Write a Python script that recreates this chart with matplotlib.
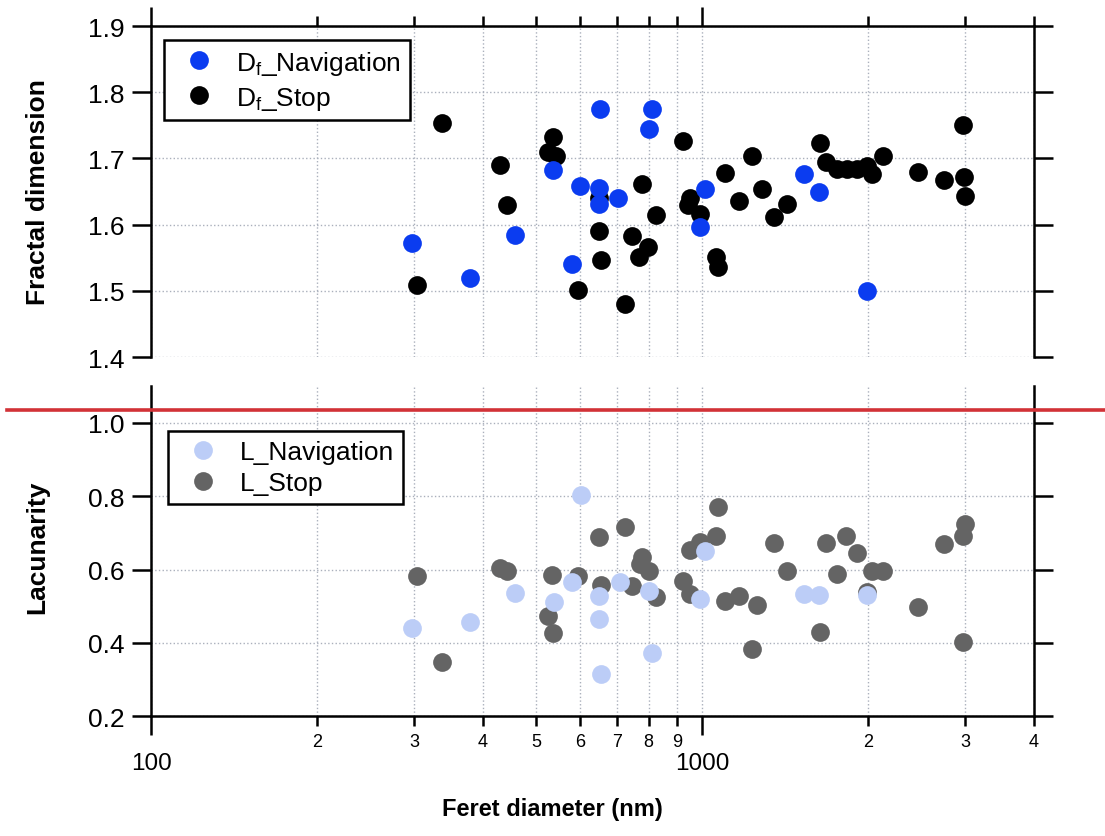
import matplotlib
matplotlib.use('Agg')
import matplotlib.pyplot as plt
from matplotlib.lines import Line2D
from matplotlib.ticker import FormatStrFormatter

plt.rcParams['font.family'] = ['Liberation Sans', 'DejaVu Sans']
plt.rcParams['mathtext.fontset'] = 'custom'
plt.rcParams['mathtext.rm'] = 'Liberation Sans'
plt.rcParams['mathtext.it'] = 'Liberation Sans:italic'

# 分形维数 - Stop (黑点)
df_stop_x = [304, 337, 429, 442, 526, 537, 542, 596, 651, 651, 656, 725, 746, 769,
             777, 797, 824, 922, 944, 951, 992, 1060, 1070, 1098, 1164, 1231, 1283,
             1351, 1425, 1638, 1679, 1756, 1830, 1909, 1990, 2032, 2128, 2463, 2742,
             2973, 2981, 3002]
df_stop_y = [1.509, 1.754, 1.690, 1.629, 1.709, 1.732, 1.703, 1.502, 1.641, 1.591,
             1.546, 1.480, 1.583, 1.551, 1.661, 1.566, 1.615, 1.727, 1.629, 1.641,
             1.616, 1.551, 1.536, 1.678, 1.635, 1.704, 1.654, 1.611, 1.631, 1.723,
             1.694, 1.684, 1.684, 1.684, 1.688, 1.677, 1.703, 1.679, 1.668, 1.750,
             1.672, 1.643]

# 分形维数 - Navigation (蓝点)
df_nav_x = [297, 379, 457, 537, 580, 600, 651, 651, 653, 705, 802, 810, 992, 1013,
            1531, 1626, 1990]
df_nav_y = [1.573, 1.520, 1.584, 1.683, 1.541, 1.659, 1.655, 1.631, 1.775, 1.640,
            1.745, 1.774, 1.596, 1.654, 1.677, 1.649, 1.500]

# 空隙度 - Stop (灰点)
l_stop_x = [304, 337, 430, 442, 525, 535, 537, 596, 651, 656, 725, 746, 771, 777,
            800, 824, 922, 951, 952, 992, 1060, 1068, 1101, 1164, 1231, 1257, 1351,
            1425, 1638, 1679, 1756, 1823, 1909, 1990, 2032, 2128, 2463, 2742, 2973,
            2973, 3002]
l_stop_y = [0.583, 0.349, 0.603, 0.597, 0.474, 0.586, 0.427, 0.583, 0.688, 0.558,
            0.715, 0.554, 0.615, 0.633, 0.597, 0.524, 0.569, 0.654, 0.533, 0.674,
            0.692, 0.770, 0.515, 0.527, 0.383, 0.503, 0.672, 0.597, 0.429, 0.672,
            0.588, 0.692, 0.645, 0.538, 0.597, 0.597, 0.497, 0.670, 0.692, 0.403,
            0.724]

# 空隙度 - Navigation (浅蓝点)
l_nav_x = [297, 379, 457, 539, 581, 603, 651, 651, 655, 708, 802, 810, 992, 1013,
           1531, 1626, 1990]
l_nav_y = [0.440, 0.458, 0.535, 0.511, 0.567, 0.803, 0.527, 0.465, 0.315, 0.567,
           0.542, 0.372, 0.521, 0.651, 0.533, 0.530, 0.530]

major_x = [100, 1000]
major_labels = ['100', '1000']
minor_x = [200, 300, 400, 500, 600, 700, 800, 900, 2000, 3000, 4000]
minor_labels = ['2', '3', '4', '5', '6', '7', '8', '9', '2', '3', '4']

c_nav = '#0b3cf0'
c_stop = '#000000'
c_lnav = '#bccdf7'
c_lstop = '#646464'
grid_c = '#aab0bc'
ms = 13.5
lw = 1.8

fig = plt.figure(figsize=(11.05, 8.37), dpi=100)
ax1 = fig.add_axes([0.1367, 0.5722, 0.799, 0.3955])
ax2 = fig.add_axes([0.1367, 0.1431, 0.799, 0.3943])

for ax in (ax1, ax2):
    ax.set_xscale('log')
    ax.set_xlim(100, 4000)
    ax.set_xticks(major_x)
    ax.set_xticks(minor_x, minor=True)
    ax.grid(True, axis='x', which='both', ls=':', color=grid_c, lw=1)
    ax.grid(True, axis='y', which='major', ls=':', color=grid_c, lw=1)
    ax.set_axisbelow(True)
    for s in ax.spines.values():
        s.set_linewidth(lw)
    ax.tick_params(axis='y', which='major', direction='out', length=14, width=lw,
                   labelsize=19, pad=5, left=True, right=True, labelright=False)
    ax.yaxis.set_major_formatter(FormatStrFormatter('%.1f'))

# 上图
ax1.plot(df_stop_x, df_stop_y, 'o', color=c_stop, ms=ms, mew=0)
ax1.plot(df_nav_x, df_nav_y, 'o', color=c_nav, ms=ms, mew=0)
ax1.set_ylim(1.4, 1.9)
ax1.set_yticks([1.4, 1.5, 1.6, 1.7, 1.8, 1.9])
ax1.spines['bottom'].set_visible(False)
ax1.tick_params(axis='x', which='both', direction='out', width=lw, top=True,
                bottom=False, labeltop=False, labelbottom=False)
ax1.tick_params(axis='x', which='major', length=14)
ax1.tick_params(axis='x', which='minor', length=7)
ax1.set_ylabel('Fractal dimension', fontsize=19, fontweight='bold')
ax1.yaxis.set_label_coords(-0.115, 0.5)

h1 = [Line2D([], [], ls='none', marker='o', color=c_nav, ms=ms, mew=0),
      Line2D([], [], ls='none', marker='o', color=c_stop, ms=ms, mew=0)]
leg1 = ax1.legend(h1, ['D$_\\mathrm{f}$_Navigation', 'D$_\\mathrm{f}$_Stop'],
                  loc='upper left', bbox_to_anchor=(0.0147, 0.958), borderaxespad=0,
                  fontsize=19, fancybox=False, edgecolor='black', framealpha=1,
                  handlelength=2.0, handletextpad=0.4, borderpad=0.33,
                  labelspacing=0.3, numpoints=1)
leg1.get_frame().set_linewidth(lw)

# 下图
ax2.plot(l_stop_x, l_stop_y, 'o', color=c_lstop, ms=ms, mew=0)
ax2.plot(l_nav_x, l_nav_y, 'o', color=c_lnav, ms=ms, mew=0)
ax2.set_ylim(0.2, 1.1)
ax2.set_yticks([0.2, 0.4, 0.6, 0.8, 1.0])
ax2.spines['top'].set_visible(False)
ax2.set_xticklabels(major_labels)
ax2.set_xticklabels(minor_labels, minor=True)
ax2.tick_params(axis='x', which='both', direction='out', width=lw, top=False,
                bottom=True)
ax2.tick_params(axis='x', which='major', length=14, labelsize=17.5, pad=12)
ax2.tick_params(axis='x', which='minor', length=7, labelsize=13, pad=5)
ax2.set_ylabel('Lacunarity', fontsize=19, fontweight='bold')
ax2.yaxis.set_label_coords(-0.115, 0.514)
ax2.set_xlabel('Feret diameter (nm)', fontsize=17, fontweight='bold')
ax2.xaxis.set_label_coords(0.455, -0.245)

h2 = [Line2D([], [], ls='none', marker='o', color=c_lnav, ms=ms, mew=0),
      Line2D([], [], ls='none', marker='o', color=c_lstop, ms=ms, mew=0)]
leg2 = ax2.legend(h2, ['L_Navigation', 'L_Stop'],
                  loc='upper left', bbox_to_anchor=(0.019, 0.864), borderaxespad=0,
                  fontsize=19, fancybox=False, edgecolor='black', framealpha=1,
                  handlelength=2.0, handletextpad=0.4, borderpad=0.33,
                  labelspacing=0.28, numpoints=1)
leg2.get_frame().set_linewidth(lw)

# 红色分隔线
fig.add_artist(Line2D([0.0063, 1.0], [0.5084, 0.5084], color='#d23237', lw=2.6,
                      transform=fig.transFigure))

fig.savefig('out.png', dpi=100)
